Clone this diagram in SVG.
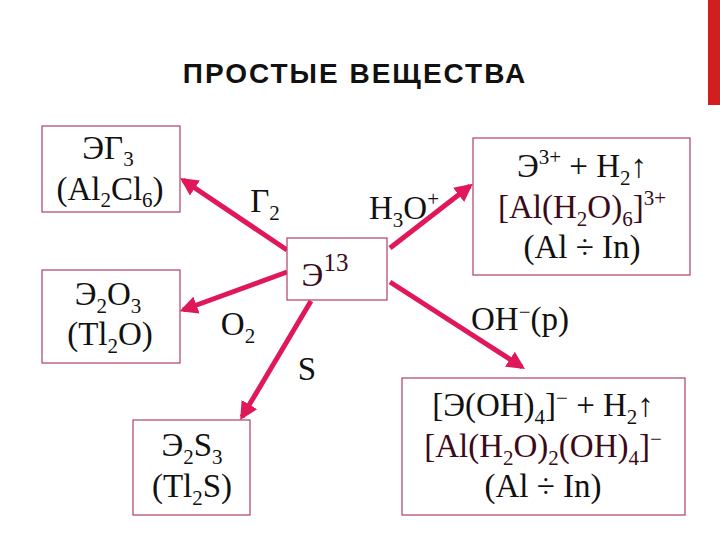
<svg xmlns="http://www.w3.org/2000/svg" width="720" height="540" viewBox="0 0 720 540">
<defs>
<marker id="ah" viewBox="0 0 10 10" refX="8" refY="5" markerWidth="3.6" markerHeight="3.6" orient="auto"><path d="M0,0L10,5L0,10z" fill="#e0185a"/></marker>
<style>
text{font-family:'Liberation Serif','Times New Roman','DejaVu Serif',serif}
.b{fill:#fff;stroke:#b04060;stroke-width:1.2}
.t{font-size:33px;fill:#111;text-anchor:middle}
.s{font-size:21px}
.m{fill:#3a0a18}
.c{stroke:#e0185a;stroke-width:5;fill:none;marker-end:url(#ah)}
</style>
</defs>
<rect width="720" height="540" fill="#fff"/>
<rect x="708" y="0" width="12" height="105" fill="#d41e1e"/>
<text x="355" y="83" style="font-family:'Liberation Sans',sans-serif" font-weight="bold" font-size="28" text-anchor="middle" fill="#111" letter-spacing="2">ПРОСТЫЕ ВЕЩЕСТВА</text>
<g id="connectors">
<line class="c" x1="287" y1="250" x2="183" y2="180"/>
<line class="c" x1="287" y1="272" x2="183" y2="310"/>
<line class="c" x1="311" y1="301" x2="242" y2="417"/>
<line class="c" x1="390" y1="248" x2="470" y2="186"/>
<line class="c" x1="390" y1="282" x2="522" y2="367"/>
</g>
<g id="labels" class="t">
<text x="265" y="212">Г<tspan class="s" dy="8">2</tspan></text>
<text x="404" y="219">H<tspan class="s" dy="8">3</tspan><tspan dy="-8">O</tspan><tspan class="s" dy="-13">+</tspan></text>
<text x="238" y="335">O<tspan class="s" dy="8">2</tspan></text>
<text x="307" y="380">S</text>
<text x="520" y="330">OH<tspan class="s" dy="-11">−</tspan><tspan dy="11">(p)</tspan></text>
</g>
<g id="center"><rect class="b" x="287" y="238" width="100" height="62"/><text class="t m" x="325" y="286" font-size="40">Э<tspan font-size="25" dy="-15">13</tspan></text></g>
<g id="eg3"><rect class="b" x="42" y="126" width="138" height="86"/><text class="t" x="108" y="159">ЭГ<tspan class="s" dy="7">3</tspan></text><text class="t" x="110" y="200">(Al<tspan class="s" dy="7">2</tspan><tspan dy="-7">Cl</tspan><tspan class="s" dy="7">6</tspan><tspan dy="-7">)</tspan></text></g>
<g id="e2o3"><rect class="b" x="42" y="270" width="138" height="93"/><text class="t" x="108" y="305">Э<tspan class="s" dy="8">2</tspan><tspan dy="-8">O</tspan><tspan class="s" dy="8">3</tspan></text><text class="t" x="110" y="345">(Tl<tspan class="s" dy="8">2</tspan><tspan dy="-8">O)</tspan></text></g>
<g id="e2s3"><rect class="b" x="133" y="420" width="117" height="95"/><text class="t" x="192" y="456">Э<tspan class="s" dy="8">2</tspan><tspan dy="-8">S</tspan><tspan class="s" dy="8">3</tspan></text><text class="t" x="192" y="497">(Tl<tspan class="s" dy="8">2</tspan><tspan dy="-8">S)</tspan></text></g>
<g id="acid"><rect class="b" x="473" y="138" width="217" height="137"/>
<text class="t" x="582" y="177">Э<tspan class="s" dy="-13">3+</tspan><tspan dy="13"> + H</tspan><tspan class="s" dy="8">2</tspan><tspan dy="-8">↑</tspan></text>
<text class="t m" x="582" y="218">[Al(H<tspan class="s" dy="8">2</tspan><tspan dy="-8">O)</tspan><tspan class="s" dy="8">6</tspan><tspan dy="-8">]</tspan><tspan class="s" dy="-13">3+</tspan></text>
<text class="t" x="582" y="258">(Al ÷ In)</text></g>
<g id="base"><rect class="b" x="402" y="378" width="283" height="137"/>
<text class="t" x="543" y="416">[Э(OH)<tspan class="s" dy="8">4</tspan><tspan dy="-8">]</tspan><tspan class="s" dy="-11">−</tspan><tspan dy="11"> + H</tspan><tspan class="s" dy="8">2</tspan><tspan dy="-8">↑</tspan></text>
<text class="t m" x="543" y="457">[Al(H<tspan class="s" dy="8">2</tspan><tspan dy="-8">O)</tspan><tspan class="s" dy="8">2</tspan><tspan dy="-8">(OH)</tspan><tspan class="s" dy="8">4</tspan><tspan dy="-8">]</tspan><tspan class="s" dy="-11">−</tspan></text>
<text class="t" x="543" y="497">(Al ÷ In)</text></g>
</svg>
